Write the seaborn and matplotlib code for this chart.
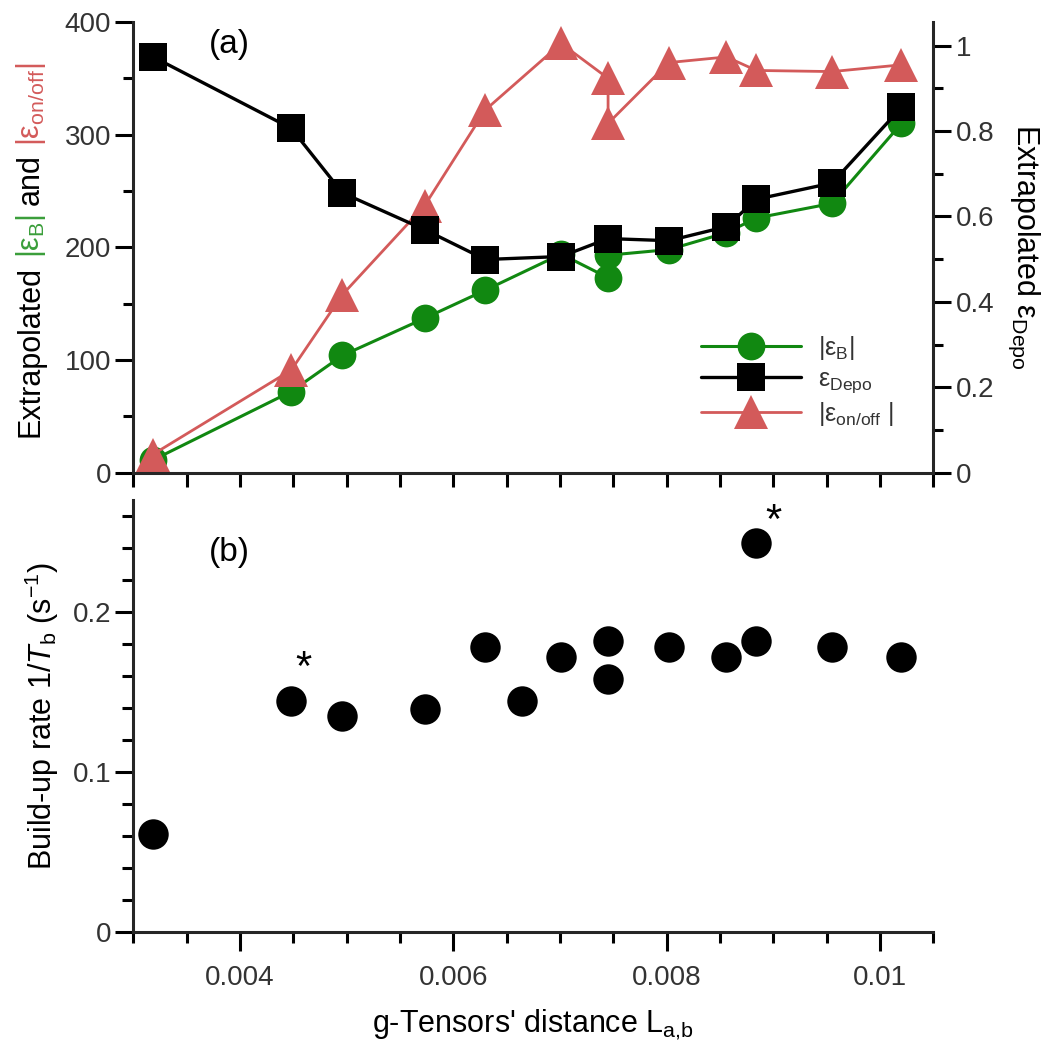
import matplotlib
matplotlib.use("Agg")
import matplotlib.pyplot as plt
import seaborn as sns
import pandas as pd
from matplotlib.ticker import MultipleLocator, FixedLocator

# ---------------- data ----------------
x_top = [0.00318, 0.00448, 0.00496, 0.00573, 0.00630, 0.00701, 0.00745, 0.00745,
         0.00802, 0.00856, 0.00884, 0.00955, 0.01020]
eps_B = [11, 72, 104, 137, 162, 194, 173, 193, 198, 213, 226, 239, 310]
eps_onoff = [16, 91, 158, 237, 322, 381, 350, 310, 364, 369, 357, 356, 362]

x_depo = [0.00318, 0.00448, 0.00496, 0.00573, 0.00630, 0.00701, 0.00745,
          0.00802, 0.00856, 0.00884, 0.00955, 0.01020]
eps_depo = [0.974, 0.806, 0.655, 0.569, 0.499, 0.506, 0.548, 0.543, 0.576, 0.640, 0.678, 0.855]

x_rate = [0.00318, 0.00448, 0.00496, 0.00573, 0.00630, 0.00664, 0.00701, 0.00745,
          0.00745, 0.00802, 0.00856, 0.00884, 0.00884, 0.00955, 0.01020]
rate = [0.061, 0.144, 0.135, 0.139, 0.178, 0.144, 0.172, 0.182,
        0.158, 0.178, 0.172, 0.182, 0.243, 0.178, 0.172]

star_x = [0.00459, 0.00900]
star_y = [0.164, 0.256]

x_major = [0.004, 0.006, 0.008, 0.010]
x_major_labels = ["0.004", "0.006", "0.008", "0.01"]

# ---------------- style ----------------
sns.set_style("ticks")
plt.rcParams["font.family"] = ["Liberation Sans", "DejaVu Sans"]
plt.rcParams["mathtext.fontset"] = "custom"
plt.rcParams["mathtext.rm"] = "Liberation Sans"
plt.rcParams["mathtext.it"] = "Liberation Sans:italic"
plt.rcParams["mathtext.bf"] = "Liberation Sans:bold"

GREEN = "#118811"
GREEN_T = "#3a9e3a"
RED = "#d35a5a"
TICKC = "#333333"
LW_SP = 2.2
FS_TICK = 20
FS_LAB = 22

fig = plt.figure(figsize=(10.5, 10.48), dpi=100)
ax1 = fig.add_axes([0.127, 0.549, 0.762, 0.430])
ax2 = ax1.twinx()
ax3 = fig.add_axes([0.127, 0.111, 0.762, 0.412])

df_top = pd.DataFrame({"x": x_top, "B": eps_B, "onoff": eps_onoff})
df_depo = pd.DataFrame({"x": x_depo, "depo": eps_depo})
df_rate = pd.DataFrame({"x": x_rate, "rate": rate})

sns.lineplot(data=df_top, x="x", y="B", ax=ax1, sort=False, estimator=None,
             color=GREEN, linewidth=2.2, marker="o", markersize=20,
             markeredgecolor=GREEN, markeredgewidth=0, label=r"|ε$_\mathrm{B}$|",
             legend=False)
sns.lineplot(data=df_top, x="x", y="onoff", ax=ax1, sort=False, estimator=None,
             color=RED, linewidth=2.0, marker="^", markersize=24,
             markeredgecolor=RED, markeredgewidth=0, label=r"|ε$_\mathrm{on/off}$ |",
             legend=False)
sns.lineplot(data=df_depo, x="x", y="depo", ax=ax2, sort=False, estimator=None,
             color="black", linewidth=2.4, marker="s", markersize=20,
             markeredgecolor="black", markeredgewidth=0, label=r"ε$_\mathrm{Depo}$",
             legend=False)

sns.scatterplot(data=df_rate, x="x", y="rate", ax=ax3, color="black", s=480,
                edgecolor="black", linewidth=0, legend=False)

for sx, sy in zip(star_x, star_y):
    ax3.text(sx, sy, "*", fontsize=30, ha="center", va="center", color="black")

# ---------------- axes ----------------
for ax in (ax1, ax2, ax3):
    ax.set_xlim(0.003, 0.0105)
    ax.set_xlabel("")
    ax.set_ylabel("")
    ax.xaxis.set_major_locator(FixedLocator(x_major))
    ax.xaxis.set_minor_locator(MultipleLocator(0.0005))
    for s in ax.spines.values():
        s.set_linewidth(LW_SP)
    ax.spines["top"].set_visible(False)

ax1.set_ylim(0, 400)
ax2.set_ylim(0, 1.055)
ax3.set_ylim(0, 0.27)

ax1.spines["right"].set_visible(False)
ax3.spines["right"].set_visible(False)
ax2.spines["left"].set_visible(False)
ax2.spines["bottom"].set_visible(False)

ax1.yaxis.set_minor_locator(MultipleLocator(50))
ax2.yaxis.set_minor_locator(MultipleLocator(0.1))
ax3.yaxis.set_minor_locator(MultipleLocator(0.02))

ax1.set_yticks([0, 100, 200, 300, 400])
ax1.set_yticklabels(["0", "100", "200", "300", "400"])
ax2.set_yticks([0, 0.2, 0.4, 0.6, 0.8, 1.0])
ax2.set_yticklabels(["0", "0.2", "0.4", "0.6", "0.8", "1"])
ax3.set_yticks([0, 0.1, 0.2])
ax3.set_yticklabels(["0", "0.1", "0.2"])
ax3.set_xticks(x_major)
ax3.set_xticklabels(x_major_labels)
ax1.set_xticks(x_major)
ax1.tick_params(axis="x", labelbottom=False)

common = dict(direction="out", width=LW_SP, colors="black", labelcolor=TICKC,
              labelsize=FS_TICK)
ax1.tick_params(axis="y", which="major", length=13, pad=3, **common)
ax1.tick_params(axis="y", which="minor", length=7, **common)
ax1.tick_params(axis="x", which="both", length=10, **common)
ax2.tick_params(axis="y", which="major", length=13, pad=3, **common)
ax2.tick_params(axis="y", which="minor", length=7, **common)
ax3.tick_params(axis="y", which="major", length=13, pad=3, **common)
ax3.tick_params(axis="y", which="minor", length=8, **common)
ax3.tick_params(axis="x", which="major", length=14, pad=10, **common)
ax3.tick_params(axis="x", which="minor", length=8, **common)

# panel labels
ax1.text(0.0039, 380, "(a)", fontsize=24, ha="center", va="center", color="black")
ax3.text(0.0039, 0.237, "(b)", fontsize=24, ha="center", va="center", color="black")

# right axis label
ax2.set_ylabel(r"Extrapolated ε$_\mathrm{Depo}$", rotation=270, fontsize=FS_LAB,
               labelpad=34, color="black")

# bottom axis labels
ax3.set_ylabel(r"Build-up rate 1/$\mathit{T}_\mathrm{b}$ (s$^{-1}$)", fontsize=FS_LAB,
               labelpad=8, color="black")
ax3.set_xlabel(r"g-Tensors' distance L$_\mathrm{a{,}b}$", fontsize=FS_LAB,
               labelpad=12, color="black")

# multi-coloured left label of panel (a)
pieces = [("Extrapolated", "black"), (r"|ε$_\mathrm{B}$|", GREEN_T),
          ("and", "black"), (r"|ε$_\mathrm{on/off}$|", RED)]
prev = ax1.annotate(pieces[0][0], xy=(0.037, 0.583), xycoords="figure fraction",
                    rotation=90, rotation_mode="anchor", ha="left", va="baseline",
                    fontsize=FS_LAB, color=pieces[0][1], annotation_clip=False)
for txt, col in pieces[1:]:
    prev = ax1.annotate(txt, xy=(0.037, 1.0), xycoords=("figure fraction", prev),
                        xytext=(0, 6), textcoords="offset points",
                        rotation=90, rotation_mode="anchor", ha="left", va="baseline",
                        fontsize=FS_LAB, color=col, annotation_clip=False)

# legend (handles from both y-axes)
h1, l1 = ax1.get_legend_handles_labels()
h2, l2 = ax2.get_legend_handles_labels()
handles = [h1[0], h2[0], h1[1]]
labels = [l1[0], l2[0], l1[1]]
leg = ax2.legend(handles, labels, loc="center", bbox_to_anchor=(0.83, 0.204),
                 frameon=False, fontsize=18, handlelength=4.0, handletextpad=0.7,
                 labelspacing=0.2, borderpad=0.2)
for t in leg.get_texts():
    t.set_color(TICKC)

fig.savefig("out.png", dpi=100)
